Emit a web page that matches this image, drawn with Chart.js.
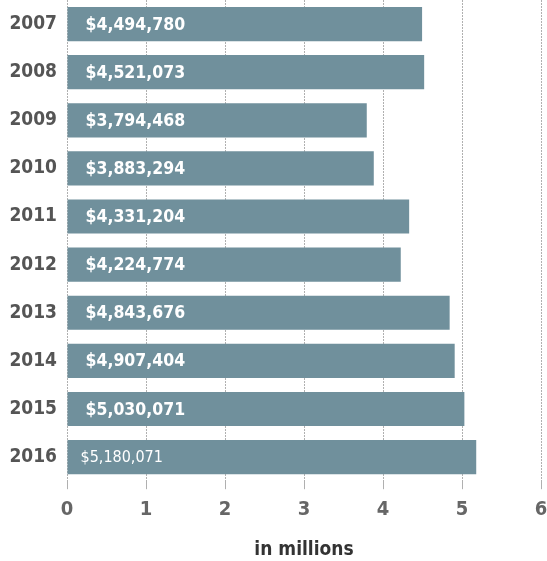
<!DOCTYPE html>
<html><head><meta charset="utf-8">
<script src="https://cdn.jsdelivr.net/npm/chart.js@4"></script>
<style>html,body{margin:0;padding:0;background:#fff}#wrap{width:547px;height:561px}</style>
</head><body><div id="wrap"><canvas id="c"></canvas></div>
<script>
const years = ['2007','2008','2009','2010','2011','2012','2013','2014','2015','2016'];
const valuesMillions = [4.494780, 4.521073, 3.794468, 3.883294, 4.331204, 4.224774, 4.843676, 4.907404, 5.030071, 5.180071];
const valueLabels = ['$4,494,780','$4,521,073','$3,794,468','$3,883,294','$4,331,204','$4,224,774','$4,843,676','$4,907,404','$5,030,071','$5,180,071'];
const xTicks = [0,1,2,3,4,5,6];

const FONT = '"DejaVu Sans Condensed", "DejaVu Sans", sans-serif';

const labelPlugin = {
  id: 'barLabels',
  afterDatasetsDraw(chart) {
    const ctx = chart.ctx;
    const meta = chart.getDatasetMeta(0);
    ctx.save();
    ctx.fillStyle = '#ffffff';
    ctx.textBaseline = 'middle';
    ctx.textAlign = 'left';
    meta.data.forEach((bar, i) => {
      const last = i === valueLabels.length - 1;
      ctx.font = (last ? '400 16px ' : '600 17.5px ') + FONT;
      ctx.fillText(valueLabels[i], bar.base + (last ? 13 : 18), bar.y + 1);
    });
    ctx.restore();
  }
};

new Chart(document.getElementById('c'), {
  type: 'bar',
  data: { labels: years, datasets: [{ data: valuesMillions, backgroundColor: '#70909c', barPercentage: 0.71, categoryPercentage: 1 }] },
  options: {
    indexAxis: 'y', responsive: true, maintainAspectRatio: false, animation: false,
    layout: { padding: { left: 0, right: 0, top: 0, bottom: 0 } },
    plugins: { legend: { display: false }, tooltip: { enabled: false } },
    scales: {
      x: {
        min: 0, max: 6,
        afterBuildTicks(s) { s.ticks = xTicks.map(v => ({ value: v })); },
        afterFit(s) { s.paddingLeft = 0; s.paddingRight = 6; },
        grid: { color: '#b0b0b0', lineWidth: 1, tickLength: 8, drawTicks: true },
        border: { display: false, dash: [2, 1] },
        ticks: { color: '#666', font: { family: FONT, weight: 'bold', size: 20 }, padding: 9 },
        title: { display: true, text: 'in millions', color: '#333', font: { family: FONT, weight: 'bold', size: 19 }, padding: { top: 7, bottom: 0 } }
      },
      y: {
        afterFit(s) { s.width = 67; s.paddingTop = 0; s.paddingBottom = 0; },
        grid: { display: false, drawTicks: false },
        border: { display: false },
        ticks: { color: '#555', font: { family: FONT, weight: 'bold', size: 19 }, padding: 10 }
      }
    }
  },
  plugins: [labelPlugin]
});
</script></body></html>
